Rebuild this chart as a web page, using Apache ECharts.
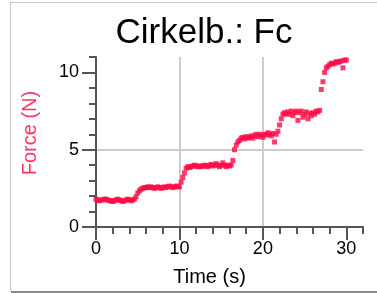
<!DOCTYPE html>
<html>
<head>
<meta charset="utf-8">
<script src="https://cdn.jsdelivr.net/npm/echarts@6/dist/echarts.min.js"></script>
<style>
  html, body { margin: 0; padding: 0; background: #fff; }
  #chart { width: 377px; height: 293px; }
</style>
</head>
<body>
<div id="chart"></div>
<script>
// time (s), sampled every 0.2 s
var times = [
  0.0, 0.2, 0.4, 0.6, 0.8,  1.0, 1.2, 1.4, 1.6, 1.8,
  2.0, 2.2, 2.4, 2.6, 2.8,  3.0, 3.2, 3.4, 3.6, 3.8,
  4.0, 4.2, 4.4, 4.6, 4.8,  5.0, 5.2, 5.4, 5.6, 5.8,
  6.0, 6.2, 6.4, 6.6, 6.8,  7.0, 7.2, 7.4, 7.6, 7.8,
  8.0, 8.2, 8.4, 8.6, 8.8,  9.0, 9.2, 9.4, 9.6, 9.8,
  10.0, 10.2, 10.4, 10.6, 10.8,  11.0, 11.2, 11.4, 11.6, 11.8,
  12.0, 12.2, 12.4, 12.6, 12.8,  13.0, 13.2, 13.4, 13.6, 13.8,
  14.0, 14.2, 14.4, 14.6, 14.8,  15.0, 15.2, 15.4, 15.6, 15.8,
  16.0, 16.2, 16.4, 16.6, 16.8,  17.0, 17.2, 17.4, 17.6, 17.8,
  18.0, 18.2, 18.4, 18.6, 18.8,  19.0, 19.2, 19.4, 19.6, 19.8,
  20.0, 20.2, 20.4, 20.6, 20.8,  21.0, 21.2, 21.4, 21.6, 21.8,
  22.0, 22.2, 22.4, 22.6, 22.8,  23.0, 23.2, 23.4, 23.6, 23.8,
  24.0, 24.2, 24.4, 24.6, 24.8,  25.0, 25.2, 25.4, 25.6, 25.8,
  26.0, 26.2, 26.4, 26.6, 26.8,  27.0, 27.2, 27.4, 27.6, 27.8,
  28.0, 28.2, 28.4, 28.6, 28.8,  29.0, 29.2, 29.4, 29.6, 29.8,
  30.0
];
// force (N)
var force = [
  1.8, 1.75, 1.7, 1.75, 1.75,  1.8, 1.8, 1.75, 1.7, 1.7,
  1.65, 1.7, 1.75, 1.8, 1.75,  1.7, 1.65, 1.7, 1.75, 1.8,
  1.75, 1.7, 1.75, 1.8, 1.95,  2.2, 2.35, 2.45, 2.5, 2.55,
  2.55, 2.6, 2.55, 2.6, 2.55,  2.5, 2.55, 2.6, 2.55, 2.5,
  2.55, 2.6, 2.55, 2.6, 2.65,  2.6, 2.55, 2.6, 2.65, 2.6,
  2.6, 2.9, 3.2, 3.5, 3.8,  3.9, 3.85, 3.9, 3.95, 4.0,
  3.95, 3.9, 3.95, 3.9, 3.95,  4.0, 3.95, 3.9, 4.0, 4.05,
  3.95, 4.0, 4.1, 4.0, 3.9,  4.0, 4.15, 4.0, 3.9, 4.0,
  3.95, 4.0, 4.3, 5.0, 5.3,  5.5, 5.6, 5.75, 5.8, 5.7,
  5.85, 5.75, 5.8, 5.9, 5.75,  5.9, 6.0, 5.85, 6.0, 5.9,
  5.8, 6.0, 5.95, 6.1, 6.0,  5.9, 6.05, 5.5, 6.0, 6.2,
  6.6, 7.0, 7.3, 7.4, 7.3,  7.45, 7.3, 7.5, 7.2, 7.4,
  7.5, 6.9, 7.4, 7.5, 7.1,  7.3, 7.45, 7.0, 7.35, 7.2,
  7.4, 7.3, 7.5, 7.45, 7.55,  8.9, 9.4, 10.0, 10.3, 10.4,
  10.5, 10.6, 10.55, 10.6, 10.7,  10.65, 10.7, 10.75, 10.3, 10.8,
  10.8
];
var xMajor = [0, 10, 20, 30];
var yMajor = [0, 5, 10];

var points = times.map(function (t, i) { return [t, force[i]]; });

var font = '"Liberation Sans", Arial, sans-serif';
var axisColor = '#555';
var gridColor = '#cccccc';

var chart = echarts.init(document.getElementById('chart'), null, { renderer: 'canvas' });
chart.setOption({
  backgroundColor: '#fff',
  animation: false,
  title: {
    text: 'Cirkelb.: Fc',
    left: 199,
    textAlign: 'center',
    top: 11,
    textStyle: { fontFamily: font, fontSize: 35, fontWeight: 'normal', color: '#000' }
  },
  grid: { left: 96, right: 14, top: 57, bottom: 66, containLabel: false },
  xAxis: [
    {
      // major: labels, long ticks, grid lines
      type: 'value', position: 'bottom', min: 0, max: 32, interval: 10,
      name: 'Time (s)', nameLocation: 'middle', nameGap: 40,
      nameTextStyle: { fontFamily: font, fontSize: 20, color: '#000', padding: [0, 40, 0, 0] },
      axisLine: { show: true, onZero: false, lineStyle: { color: axisColor, width: 2 } },
      axisTick: { show: true, length: 13, customValues: xMajor, lineStyle: { color: axisColor, width: 2 } },
      axisLabel: { customValues: xMajor, margin: 13, fontFamily: font, fontSize: 18, color: '#000' },
      splitLine: { show: true, showMinLine: false, showMaxLine: false, lineStyle: { color: gridColor, width: 2 } }
    },
    {
      // minor ticks
      type: 'value', position: 'bottom', min: 0, max: 32, interval: 2,
      axisLine: { show: false, onZero: false },
      axisTick: { show: true, length: 7, lineStyle: { color: axisColor, width: 2 } },
      axisLabel: { show: false },
      splitLine: { show: false }
    }
  ],
  yAxis: [
    {
      type: 'value', position: 'left', min: 0, max: 11, interval: 5,
      name: 'Force (N)', nameLocation: 'middle', nameGap: 56, nameRotate: 90,
      nameTextStyle: { fontFamily: font, fontSize: 20, color: '#ff3366', padding: [0, 0, 0, 18] },
      axisLine: { show: true, onZero: false, lineStyle: { color: axisColor, width: 2 } },
      axisTick: { show: true, length: 14, customValues: yMajor, lineStyle: { color: axisColor, width: 2 } },
      axisLabel: { customValues: yMajor, margin: 17, fontFamily: font, fontSize: 18, color: '#000' },
      splitLine: { show: true, showMinLine: false, showMaxLine: false, lineStyle: { color: gridColor, width: 2 } }
    },
    {
      type: 'value', position: 'left', min: 0, max: 11, interval: 1,
      axisLine: { show: false, onZero: false },
      axisTick: { show: true, length: 7, lineStyle: { color: axisColor, width: 2 } },
      axisLabel: { show: false },
      splitLine: { show: false }
    }
  ],
  graphic: [
    { type: 'line', shape: { x1: 10.5, y1: 2, x2: 10.5, y2: 291 }, style: { stroke: '#c8c8c8', lineWidth: 1 }, silent: true },
    { type: 'line', shape: { x1: 10, y1: 2.5, x2: 377, y2: 2.5 }, style: { stroke: '#c8c8c8', lineWidth: 1 }, silent: true },
    { type: 'line', shape: { x1: 11, y1: 292, x2: 377, y2: 292 }, style: { stroke: '#888', lineWidth: 2 }, silent: true }
  ],
  series: [
    {
      type: 'scatter',
      xAxisIndex: 0,
      yAxisIndex: 0,
      data: points,
      symbol: 'rect',
      symbolSize: 5,
      itemStyle: { color: '#ff0a45' }
    }
  ]
});
</script>
</body>
</html>
